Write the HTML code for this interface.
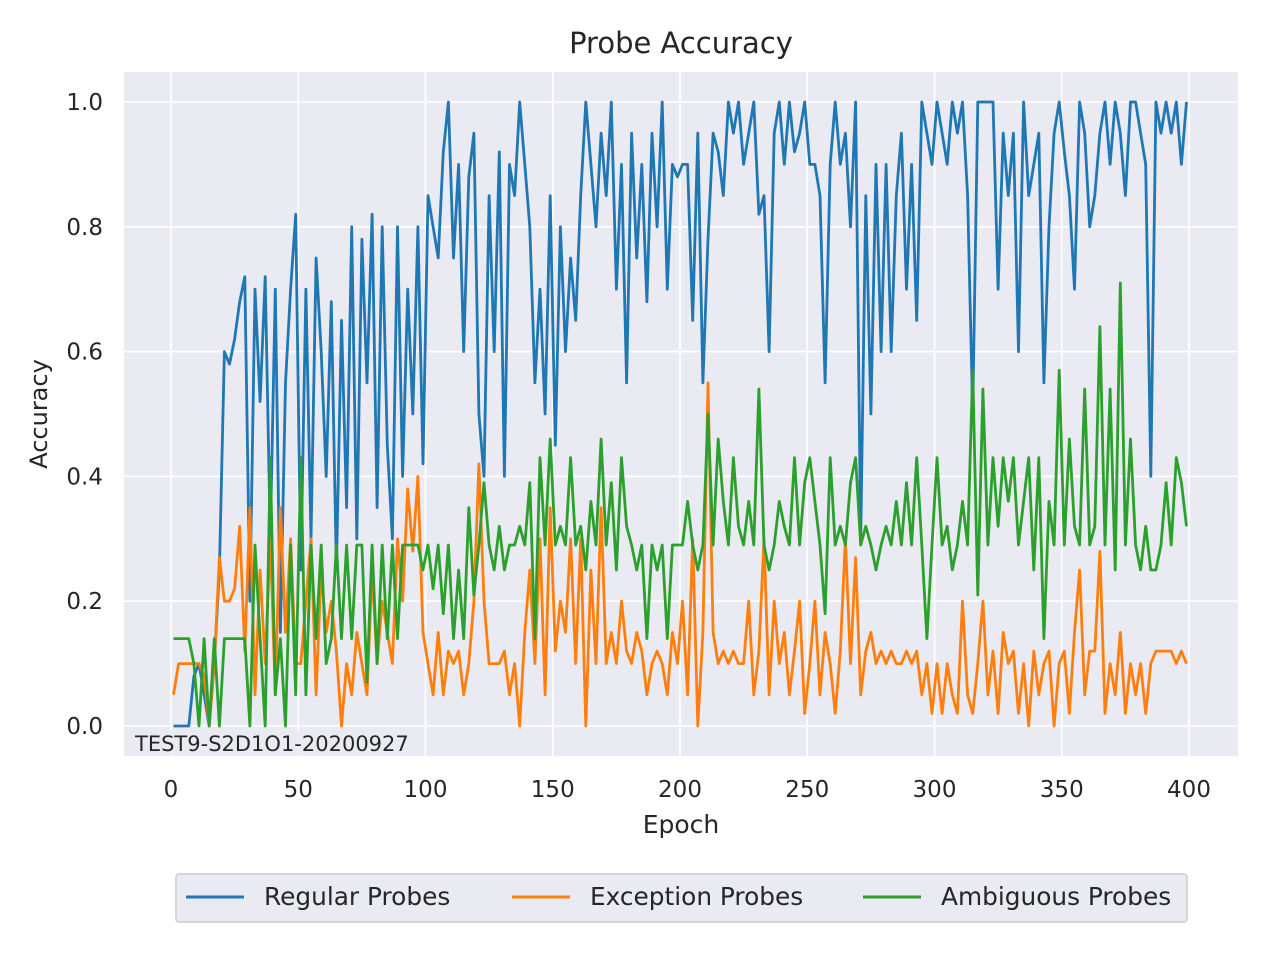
<!DOCTYPE html>
<html><head><meta charset="utf-8"><style>
html,body{margin:0;padding:0;background:#fff;}
svg{display:block;font-family:"DejaVu Sans","Liberation Sans",sans-serif;}
</style></head><body>
<svg id="chart" width="1280" height="960" viewBox="0 0 1280 960">
<rect x="124" y="72" width="1114" height="684" fill="#eaeaf2"/>
<g id="grid"></g>
<g id="series"></g>
<g id="ticks"></g>
<text x="681" y="53" font-size="29" text-anchor="middle" fill="#262626">Probe Accuracy</text>
<text x="681" y="833" font-size="25" text-anchor="middle" fill="#262626">Epoch</text>
<text x="0" y="0" font-size="24" text-anchor="middle" fill="#262626" transform="translate(47,414) rotate(-90)">Accuracy</text>
<rect x="132" y="730" width="280" height="25" fill="#eaeaf2" opacity="0.8"/>
<text x="135" y="751" font-size="21" fill="#262626">TEST9-S2D1O1-20200927</text>
<g>
<rect x="176" y="874" width="1011" height="48" rx="3" fill="#eaeaf2" stroke="#cccccc" stroke-width="1.5"/>
<g><line x1="186" y1="897" x2="244" y2="897" stroke="#1f77b4" stroke-width="3"/><text x="264" y="905" font-size="24.8" fill="#262626">Regular Probes</text></g>
<g><line x1="512" y1="897" x2="570" y2="897" stroke="#ff7f0e" stroke-width="3"/><text x="590" y="905" font-size="24.8" fill="#262626">Exception Probes</text></g>
<g><line x1="863" y1="897" x2="921" y2="897" stroke="#2ca02c" stroke-width="3"/><text x="941" y="905" font-size="24.8" fill="#262626">Ambiguous Probes</text></g>
</g>
</svg>
<script>
const xTicks=[0,50,100,150,200,250,300,350,400];
const yTicks=[0,0.2,0.4,0.6,0.8,1.0];
const yTickLabels=["0.0","0.2","0.4","0.6","0.8","1.0"];
const epochStart=1, epochStep=2;
const regular=[0,0,0,0,0.08,0.1,0.05,0,0.1,0.25,0.6,0.58,0.62,0.68,0.72,0.2,0.7,0.52,0.72,0.3,0.7,0.15,0.55,0.7,0.82,0.25,0.7,0.3,0.75,0.6,0.4,0.68,0.25,0.65,0.35,0.8,0.3,0.78,0.55,0.82,0.35,0.8,0.45,0.3,0.8,0.4,0.7,0.5,0.8,0.42,0.85,0.8,0.75,0.92,1.0,0.75,0.9,0.6,0.88,0.95,0.5,0.4,0.85,0.6,0.92,0.4,0.9,0.85,1.0,0.9,0.8,0.55,0.7,0.5,0.85,0.45,0.8,0.6,0.75,0.65,0.85,1.0,0.9,0.8,0.95,0.85,1.0,0.7,0.9,0.55,0.95,0.75,0.9,0.68,0.95,0.8,1.0,0.7,0.9,0.88,0.9,0.9,0.65,0.95,0.55,0.78,0.95,0.92,0.85,1.0,0.95,1.0,0.9,0.95,1.0,0.82,0.85,0.6,0.95,1.0,0.9,1.0,0.92,0.95,1.0,0.9,0.9,0.85,0.55,0.9,1.0,0.9,0.95,0.8,1.0,0.3,0.85,0.5,0.9,0.6,0.9,0.6,0.85,0.95,0.7,0.9,0.65,1.0,0.95,0.9,1.0,0.95,0.9,1.0,0.95,1.0,0.85,0.5,1.0,1.0,1.0,1.0,0.7,0.95,0.85,0.95,0.6,1.0,0.85,0.9,0.95,0.55,0.8,0.95,1.0,0.92,0.85,0.7,1.0,0.95,0.8,0.85,0.95,1.0,0.9,1.0,0.95,0.85,1.0,1.0,0.95,0.9,0.4,1.0,0.95,1.0,0.95,1.0,0.9,1.0];
const exception=[0.05,0.1,0.1,0.1,0.1,0.1,0.08,0,0.1,0.27,0.2,0.2,0.22,0.32,0.12,0.35,0.05,0.25,0.1,0.3,0.05,0.35,0.15,0.3,0.1,0.1,0.2,0.3,0.05,0.25,0.15,0.2,0.12,0,0.1,0.05,0.15,0.1,0.05,0.25,0.1,0.2,0.15,0.1,0.3,0.2,0.38,0.28,0.4,0.15,0.1,0.05,0.15,0.05,0.12,0.1,0.12,0.05,0.1,0.2,0.42,0.2,0.1,0.1,0.1,0.12,0.05,0.1,0,0.15,0.25,0.1,0.3,0.05,0.35,0.12,0.2,0.15,0.3,0.1,0.3,0,0.25,0.1,0.35,0.1,0.15,0.1,0.2,0.12,0.1,0.15,0.12,0.05,0.1,0.12,0.1,0.05,0.15,0.1,0.2,0.05,0.3,0,0.15,0.55,0.15,0.1,0.12,0.1,0.12,0.1,0.1,0.2,0.05,0.12,0.3,0.05,0.2,0.1,0.15,0.05,0.12,0.2,0.02,0.1,0.2,0.05,0.15,0.1,0.02,0.12,0.3,0.1,0.27,0.05,0.12,0.15,0.1,0.12,0.1,0.12,0.1,0.1,0.12,0.1,0.12,0.05,0.1,0.02,0.1,0.02,0.1,0.05,0.02,0.2,0.05,0.02,0.1,0.2,0.05,0.12,0.02,0.15,0.1,0.12,0.02,0.1,0,0.12,0.05,0.1,0.12,0,0.1,0.12,0.02,0.15,0.25,0.05,0.12,0.12,0.28,0.02,0.1,0.05,0.15,0.02,0.1,0.05,0.1,0.02,0.1,0.12,0.12,0.12,0.12,0.1,0.12,0.1];
const ambiguous=[0.14,0.14,0.14,0.14,0.1,0,0.14,0,0.14,0,0.14,0.14,0.14,0.14,0.14,0,0.29,0.14,0,0.43,0.05,0.14,0,0.29,0.05,0.43,0.05,0.29,0.14,0.29,0.1,0.14,0.29,0.14,0.29,0.14,0.29,0.29,0.07,0.29,0.1,0.29,0.14,0.29,0.14,0.29,0.29,0.29,0.29,0.25,0.29,0.22,0.29,0.18,0.29,0.14,0.25,0.14,0.35,0.21,0.29,0.39,0.29,0.25,0.32,0.25,0.29,0.29,0.32,0.29,0.39,0.14,0.43,0.29,0.46,0.29,0.32,0.29,0.43,0.29,0.32,0.25,0.36,0.29,0.46,0.29,0.39,0.25,0.43,0.32,0.29,0.25,0.29,0.14,0.29,0.25,0.29,0.14,0.29,0.29,0.29,0.36,0.29,0.25,0.29,0.5,0.29,0.46,0.36,0.29,0.43,0.32,0.29,0.36,0.29,0.54,0.29,0.25,0.29,0.36,0.32,0.29,0.43,0.29,0.39,0.43,0.36,0.29,0.18,0.43,0.29,0.32,0.29,0.39,0.43,0.29,0.32,0.29,0.25,0.29,0.32,0.29,0.36,0.29,0.39,0.29,0.43,0.29,0.14,0.29,0.43,0.29,0.32,0.25,0.29,0.36,0.29,0.57,0.21,0.54,0.29,0.43,0.32,0.43,0.36,0.43,0.29,0.36,0.43,0.25,0.43,0.14,0.36,0.29,0.57,0.29,0.46,0.32,0.29,0.54,0.29,0.32,0.64,0.29,0.54,0.25,0.71,0.29,0.46,0.29,0.25,0.32,0.25,0.25,0.29,0.39,0.29,0.43,0.39,0.32];

const NS="http://www.w3.org/2000/svg";
function xS(e){return 171+(e-0)*(1189-171)/400;}
function yS(v){return 726-v*(726-102);}
const grid=document.getElementById('grid'), ticks=document.getElementById('ticks'), ser=document.getElementById('series');
xTicks.forEach(t=>{
  const l=document.createElementNS(NS,'line');
  l.setAttribute('x1',xS(t));l.setAttribute('x2',xS(t));l.setAttribute('y1',72);l.setAttribute('y2',756);
  l.setAttribute('stroke','#fff');l.setAttribute('stroke-width','1.6');
  
  
  grid.appendChild(l);
  const tx=document.createElementNS(NS,'text');
  tx.setAttribute('x',xS(t));tx.setAttribute('y',797);tx.setAttribute('font-size','23');tx.setAttribute('text-anchor','middle');tx.setAttribute('fill','#262626');
  tx.textContent=t;
  
  
  ticks.appendChild(tx);
});
yTicks.forEach((t,i)=>{
  const l=document.createElementNS(NS,'line');
  l.setAttribute('x1',124);l.setAttribute('x2',1238);l.setAttribute('y1',yS(t));l.setAttribute('y2',yS(t));
  l.setAttribute('stroke','#fff');l.setAttribute('stroke-width','1.6');
  
  
  grid.appendChild(l);
  const tx=document.createElementNS(NS,'text');
  tx.setAttribute('x',103);tx.setAttribute('y',yS(t)+8);tx.setAttribute('font-size','23');tx.setAttribute('text-anchor','end');tx.setAttribute('fill','#262626');
  tx.textContent=yTickLabels[i];
  
  
  ticks.appendChild(tx);
});
function drawLine(arr,color,name){
  const p=document.createElementNS(NS,'polyline');
  p.setAttribute('points',arr.map((v,i)=>xS(epochStart+i*epochStep).toFixed(1)+','+yS(v).toFixed(1)).join(' '));
  p.setAttribute('fill','none');p.setAttribute('stroke',color);p.setAttribute('stroke-width','2.8');p.setAttribute('stroke-linejoin','round');
  
  
  ser.appendChild(p);
}
drawLine(regular,'#1f77b4','regular-probes-line');
drawLine(exception,'#ff7f0e','exception-probes-line');
drawLine(ambiguous,'#2ca02c','ambiguous-probes-line');
</script>
</body></html>
